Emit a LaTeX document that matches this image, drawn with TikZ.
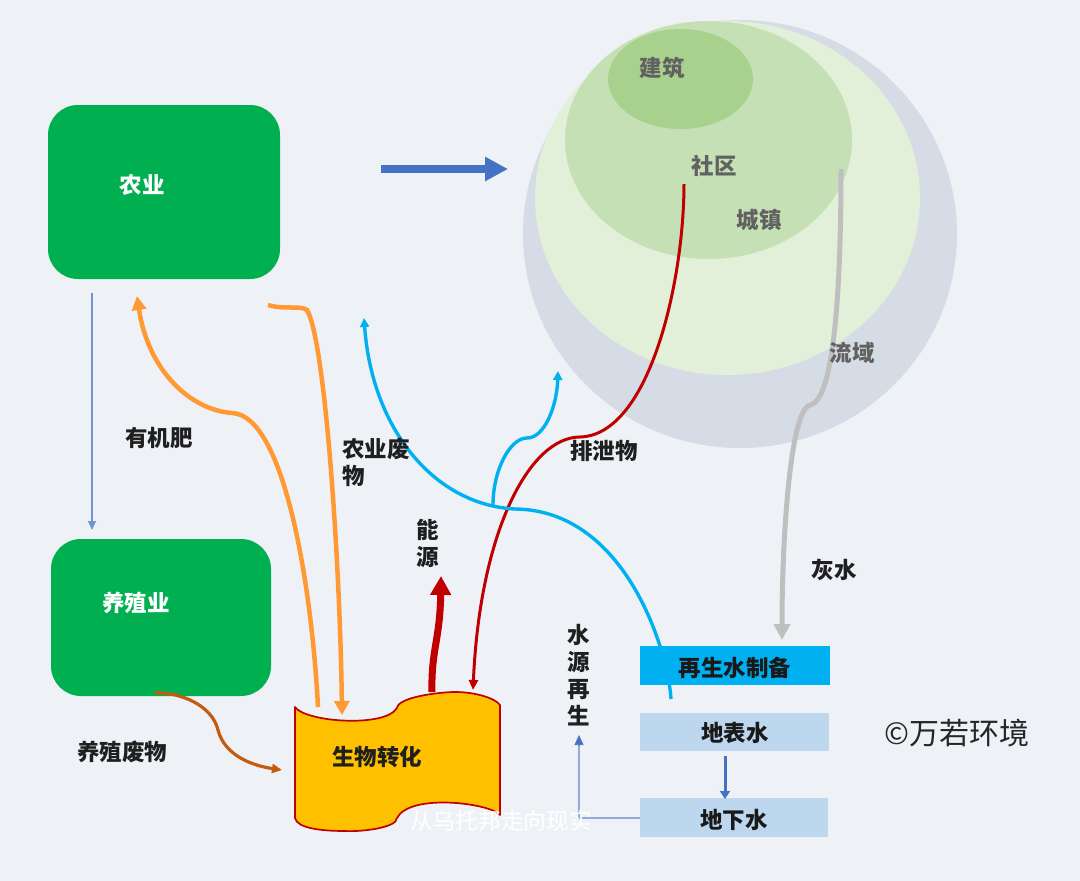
\documentclass[tikz,border=0pt]{standalone}
\usepackage{fontspec}
\setmainfont{Noto Sans CJK SC}
\usetikzlibrary{arrows.meta}
\definecolor{bgc}{HTML}{EEF2F6}
\definecolor{agri}{HTML}{00B050}
\definecolor{orangel}{HTML}{FF9933}
\definecolor{brownl}{HTML}{C55A11}
\definecolor{redl}{HTML}{C00000}
\definecolor{cyanl}{HTML}{00B0F0}
\definecolor{bluel}{HTML}{4472C4}
\definecolor{grayl}{HTML}{BFBFBF}
\definecolor{lightb}{HTML}{BDD7EE}
\definecolor{thinb}{HTML}{8FAADC}
\definecolor{shapey}{HTML}{FFC000}
\definecolor{regA}{HTML}{D6DCE5}
\definecolor{regB}{HTML}{E2EFD9}
\definecolor{regC}{HTML}{C5E0B4}
\definecolor{regD}{HTML}{A9D18E}
\tikzset{
  lab/.style={font=\fontsize{22.5}{27}\selectfont\bfseries,text=black!88,inner sep=0pt,align=center},
  glab/.style={font=\fontsize{22.5}{27}\selectfont\bfseries,text=black!62,inner sep=0pt},
  wlab/.style={font=\fontsize{22.5}{27}\selectfont\bfseries,text=white,inner sep=0pt},
  gbox/.style={fill=agri,rounded corners=30pt,draw=none},
  wbox/.style={draw=none,inner sep=0pt,font=\fontsize{22.5}{27}\selectfont\bfseries,text=black!90},
}
\begin{document}
\begin{tikzpicture}[x=1pt,y=-1pt]
\useasboundingbox (0,0) rectangle (1080,881);
\fill[bgc] (0,0) rectangle (1080,881);
% nested regions
\fill[regA] (740,234) ellipse [x radius=217,y radius=214];
\fill[regB] (727.5,198) ellipse [x radius=192.5,y radius=177];
\fill[regC] (708.5,140) ellipse [x radius=143.5,y radius=119];
\fill[regD] (680.5,79) ellipse [x radius=72.5,y radius=50];
\node[glab] (jz) at (662,68) {建筑};
\node[glab] (sq) at (714,166) {社区};
\node[glab] (cz) at (759,220) {城镇};
% boxes
\path[gbox] (48,105) rectangle (280,279);
\node[wlab] (ny) at (142,185) {农业};
\path[gbox] (51,539) rectangle (271,696);
\node[wlab] (yz) at (136,603) {养殖业};
% free ends
\coordinate (bigA) at (381,169);
\coordinate (bigB) at (508,169);
\coordinate (nyS) at (92,293);
\coordinate (yzN) at (92,530);
\coordinate (bioA) at (318,707);
\coordinate (nyB) at (137,296);
\coordinate (nyC) at (268,305);
\coordinate (bioB) at (342,715);
\coordinate (yzB) at (155,693);
\coordinate (bioL) at (282,770);
\coordinate (sqS) at (684,184);
\coordinate (bioR) at (473,690);
\coordinate (bioE) at (432,692);
\coordinate (enA) at (441,576);
\coordinate (cyA) at (671,699);
\coordinate (cyB) at (364,318);
\coordinate (cyM) at (493,505);
\coordinate (cyC) at (558,371);
\coordinate (lyS) at (841,169);
\coordinate (zsN) at (782,640);
\coordinate (turn) at (579,818);
\coordinate (syE) at (579,735);
% bio shape
\draw[fill=shapey,draw=redl,line width=1.7pt,line join=round] (295,707)
  .. controls (305,722) and (385,728) .. (397,708)
  .. controls (398,697) and (440,692) .. (455,692)
  .. controls (475,692) and (495,698) .. (500,705)
  -- (500,815)
  .. controls (490,803) and (410,793) .. (397,818)
  .. controls (397,828) and (360,832) .. (345,831)
  .. controls (320,831) and (297,828) .. (295,818) -- cycle;
\node[lab] (sw) at (377,757) {生物转化};
% connectors
\draw[bluel,line width=7.5pt,-{Triangle[length=23pt,width=23pt]}] (bigA) -- (bigB);
\draw[thinb!60!bluel,line width=1.2pt,-{Triangle[length=9pt,width=8pt]}] (nyS) -- (yzN);
\draw[orangel,line width=4.5pt,-{Triangle[length=14pt,width=14pt]}] (bioA) .. controls (312,590) and (285,415) .. (232,413) .. controls (190,410) and (148,370) .. (nyB);
\draw[orangel,line width=4.5pt,-{Triangle[length=14pt,width=15pt]}] (nyC) .. controls (285,310) and (300,305) .. (307,310) .. controls (325,340) and (340,560) .. (bioB);
\draw[brownl,line width=3.2pt,-{Triangle[length=10pt,width=9pt]}] (yzB) .. controls (180,692) and (212,705) .. (218,730) .. controls (225,757) and (255,766) .. (bioL);
\draw[redl,line width=3pt,-{Triangle[length=10pt,width=9pt]}] (sqS) .. controls (684,280) and (650,435) .. (580,437) .. controls (530,437) and (480,530) .. (bioR);
\draw[redl,line width=7pt,-{Triangle[length=19pt,width=20pt]}] (bioE) .. controls (431,650) and (440,640) .. (enA);
\draw[cyanl,line width=3.4pt,-{Triangle[length=9pt,width=9pt]}] (cyA) .. controls (668,650) and (625,510) .. (515,509) .. controls (435,505) and (372,430) .. (cyB);
\draw[cyanl,line width=3.4pt,-{Triangle[length=9pt,width=9pt]}] (cyM) .. controls (493,470) and (510,438) .. (527,438) .. controls (545,438) and (557,405) .. (cyC);
\draw[grayl,line width=5pt,-{Triangle[length=16pt,width=16pt]}] (lyS) .. controls (841,250) and (838,400) .. (810,405) .. controls (790,410) and (782,540) .. (zsN);
\node[glab] (ly) at (852,353) {流域};
% water boxes
\fill[cyanl] (640,646) rectangle (830,685);
\node[wbox] (zb) at (735,668) {再生水制备};
\fill[lightb] (640,713) rectangle (829,751);
\node[wbox] (db) at (735,733) {地表水};
\fill[lightb] (640,798) rectangle (828,837);
\node[wbox] (dx) at (734,820) {地下水};
\draw[bluel,line width=3pt,-{Triangle[length=8pt,width=10pt]}] (725,756) -- (725,799);
\draw[thinb,line width=1.2pt] (640,818) -- (turn);
\draw[thinb,line width=1.2pt] (turn) -- (579,745);
\draw[bluel,line width=.6pt,-{Triangle[length=10pt,width=9pt]}] (579,745) -- (syE);
% labels
\node[lab] (yjf) at (159,438) {有机肥};
\node[lab] (yzfw) at (122,752) {养殖废物};
\node[lab,align=left,anchor=west] (nyfw) at (342,462.5) {农业废\\物};
\node[lab] (ny2) at (428,543.5) {能\\源};
\node[lab] (pxw) at (604,451) {排泄物};
\node[lab] (hs) at (834,570) {灰水};
\node[lab] (sy) at (579,675) {水\\源\\再\\生};
\node[inner sep=0pt,text=black!85,font=\fontsize{30}{32}\selectfont] (wr) at (957,733) {©万若环境};
\node[inner sep=0pt,text=white,font=\fontsize{22.7}{26}\selectfont] (wm) at (501,821) {从乌托邦走向现实};
\end{tikzpicture}
\end{document}
